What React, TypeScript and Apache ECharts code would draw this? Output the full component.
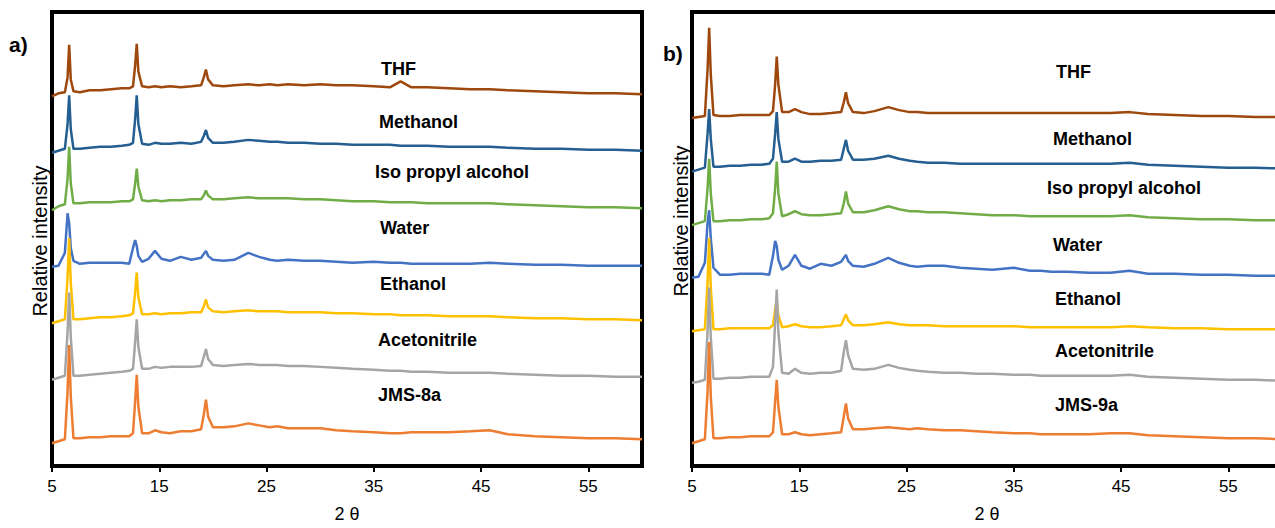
import React, { useEffect, useRef } from "react";
import * as echarts from "echarts";

// 2θ sampling positions (degrees), shared by every pattern
const THETA = [
  5, 5.6, 6.2, 6.45, 6.6, 6.75, 7.0, 7.6, 8.5, 9.5,
  10.5, 11.5, 12.2, 12.55, 12.75, 12.9, 13.05, 13.4, 14.0, 14.6,
  15.2, 16.0, 17.0, 18.0, 18.9, 19.15, 19.35, 19.55, 20.0, 21.0,
  22.0, 23.3, 24.3, 25.3, 26.0, 27.0, 28.5, 30, 31.5, 33,
  35, 36.5, 37.5, 38.5, 40, 42, 44, 45.8, 47.5, 50,
  52.5, 55, 57.5, 60,
];

const X_TICKS = [5, 15, 25, 35, 45, 55];

const LEFT_LABELS = ["THF", "Methanol", "Iso propyl alcohol", "Water", "Ethanol", "Acetonitrile", "JMS-8a"];
const RIGHT_LABELS = ["THF", "Methanol", "Iso propyl alcohol", "Water", "Ethanol", "Acetonitrile", "JMS-9a"];

// Panel a) stacked relative intensities
const A_THF = [373, 376, 377, 392, 425, 390, 378, 377, 379, 379, 380, 381, 381, 383, 404, 426, 398, 383, 382, 383, 382, 383, 382, 383, 384, 392, 400, 390, 384, 383, 384, 385, 384, 385, 384, 385, 384, 385, 384, 384, 383, 382, 388, 382, 382, 381, 380, 380, 379, 378, 377, 376, 376, 375];
const A_METHANOL = [316, 318, 320, 345, 374, 340, 320, 320, 321, 322, 322, 323, 324, 326, 350, 374, 345, 325, 324, 326, 325, 325, 326, 325, 327, 333, 339, 331, 326, 326, 327, 329, 328, 327, 327, 326, 326, 325, 325, 324, 324, 324, 323, 323, 323, 322, 322, 322, 321, 320, 320, 319, 319, 318];
const A_IPA = [258, 262, 264, 290, 322, 285, 265, 265, 266, 266, 266, 267, 267, 269, 285, 300, 282, 268, 267, 268, 267, 268, 268, 269, 269, 273, 278, 273, 269, 269, 270, 271, 270, 270, 270, 270, 269, 269, 268, 267, 267, 266, 266, 266, 265, 265, 265, 265, 264, 263, 262, 261, 261, 260];
const A_WATER = [201, 202, 215, 255, 245, 220, 207, 204, 205, 205, 205, 205, 204, 220, 228, 222, 212, 206, 209, 217, 209, 207, 211, 208, 210, 214, 217, 212, 208, 207, 208, 215, 211, 208, 207, 208, 207, 207, 206, 205, 206, 205, 205, 204, 204, 204, 204, 205, 204, 203, 203, 202, 202, 202];
const A_ETHANOL = [144, 146, 148, 190, 230, 185, 148, 148, 149, 150, 150, 151, 152, 154, 175, 195, 170, 153, 153, 154, 153, 154, 154, 155, 155, 161, 168, 160, 156, 155, 156, 157, 156, 156, 156, 155, 155, 155, 154, 154, 153, 153, 152, 152, 152, 151, 151, 151, 150, 149, 149, 148, 148, 147];
const A_ACN = [87, 89, 91, 135, 175, 130, 91, 91, 92, 93, 94, 95, 96, 98, 125, 148, 120, 98, 98, 100, 99, 100, 100, 100, 101, 110, 118, 108, 102, 101, 102, 103, 102, 102, 102, 101, 101, 100, 99, 98, 97, 96, 96, 95, 95, 94, 94, 94, 93, 92, 91, 91, 90, 90];
const A_JMS8A = [23, 25, 27, 75, 122, 70, 28, 28, 29, 29, 30, 30, 30, 33, 65, 92, 60, 33, 33, 36, 34, 33, 35, 35, 37, 52, 67, 50, 39, 39, 40, 43, 41, 39, 40, 38, 38, 38, 36, 35, 34, 33, 33, 34, 34, 34, 35, 36, 32, 30, 29, 28, 28, 27];

// Panel b) stacked relative intensities
const B_THF = [351, 352, 353, 400, 442, 395, 354, 353, 353, 354, 354, 354, 354, 358, 385, 413, 385, 357, 357, 360, 357, 355, 355, 356, 357, 367, 377, 366, 357, 356, 358, 362, 359, 357, 357, 356, 356, 356, 356, 356, 356, 356, 356, 356, 356, 356, 356, 357, 355, 354, 353, 353, 352, 352];
const B_METHANOL = [297, 299, 301, 335, 360, 330, 302, 302, 303, 303, 304, 304, 305, 310, 335, 357, 330, 307, 307, 310, 307, 307, 308, 308, 309, 320, 329, 318, 309, 309, 310, 313, 310, 308, 307, 306, 306, 305, 305, 305, 305, 305, 305, 305, 305, 305, 305, 306, 304, 303, 302, 301, 301, 300];
const B_IPA = [243, 245, 247, 280, 310, 275, 247, 247, 248, 248, 249, 249, 250, 255, 280, 307, 275, 252, 254, 257, 254, 253, 253, 254, 255, 265, 277, 265, 256, 256, 258, 262, 259, 257, 257, 256, 256, 255, 254, 253, 253, 252, 252, 252, 252, 252, 252, 253, 251, 250, 249, 249, 248, 248];
const B_WATER = [190, 191, 205, 245, 258, 230, 200, 193, 193, 194, 194, 194, 193, 212, 227, 222, 208, 198, 202, 213, 202, 199, 204, 202, 206, 210, 213, 207, 202, 201, 204, 210, 205, 202, 201, 202, 202, 200, 199, 198, 200, 197, 197, 196, 196, 195, 195, 197, 194, 194, 193, 193, 192, 192];
const B_ETHANOL = [136, 137, 138, 185, 230, 180, 138, 138, 139, 139, 139, 139, 139, 142, 158, 167, 152, 140, 141, 143, 141, 140, 140, 141, 142, 148, 153, 147, 142, 142, 143, 145, 143, 142, 142, 142, 141, 141, 141, 141, 141, 140, 140, 140, 140, 140, 140, 141, 140, 139, 139, 138, 138, 138];
const B_ACN = [84, 85, 87, 135, 180, 130, 88, 88, 89, 89, 90, 90, 90, 100, 145, 178, 135, 94, 93, 98, 94, 93, 94, 94, 96, 115, 127, 112, 98, 97, 98, 102, 99, 97, 96, 95, 94, 94, 93, 93, 92, 92, 91, 91, 91, 91, 91, 92, 90, 89, 88, 87, 87, 86];
const B_JMS9A = [23, 25, 27, 75, 125, 70, 28, 28, 29, 29, 30, 30, 30, 34, 65, 87, 60, 32, 32, 34, 32, 31, 32, 33, 34, 50, 63, 48, 37, 37, 38, 39, 38, 37, 38, 37, 36, 36, 35, 34, 33, 33, 32, 32, 32, 32, 33, 33, 31, 30, 29, 28, 28, 27];

const A_SERIES = [A_THF, A_METHANOL, A_IPA, A_WATER, A_ETHANOL, A_ACN, A_JMS8A];
const B_SERIES = [B_THF, B_METHANOL, B_IPA, B_WATER, B_ETHANOL, B_ACN, B_JMS9A];

const COLORS = ["#9E480E", "#255E91", "#70AD47", "#4472C4", "#FFC000", "#A5A5A5", "#ED7D31"];

const FONT = "Arial, 'Liberation Sans', sans-serif";

// label anchor positions (px) for the curve names
const A_LABEL_POS = [[381, 69], [379, 122], [375, 172], [380, 228], [380, 284], [378, 340], [378, 395]];
const B_LABEL_POS = [[1056, 72], [1053, 139], [1047, 188], [1053, 245], [1055, 299], [1055, 351], [1055, 405]];

export default function App() {
  const ref = useRef<HTMLDivElement>(null);

  useEffect(() => {
    if (!ref.current) return;
    const chart = echarts.init(ref.current, null, { renderer: "svg" });

    const grids = [
      { left: 52, top: 12, width: 590, height: 458 },
      { left: 692, top: 12, width: 590, height: 458 },
    ].map((g) => ({ ...g, show: true, borderColor: "#000", borderWidth: 4, backgroundColor: "transparent", containLabel: false }));

    const xAxes = [0, 1].map((i) => ({
      type: "value",
      gridIndex: i,
      min: 5,
      max: 60,
      interval: 10,
      name: "2 θ",
      nameLocation: "middle",
      nameGap: 39,
      nameTextStyle: { fontFamily: FONT, fontSize: 18, color: "#000" },
      axisLine: { show: true, onZero: false, lineStyle: { color: "#000", width: 4 } },
      axisTick: { show: true, inside: false, length: 6, lineStyle: { color: "#000", width: 2 } },
      axisLabel: {
        show: true,
        color: "#000",
        fontFamily: FONT,
        fontSize: 17,
        margin: 12,
        showMaxLabel: false,
        formatter: (v: number) => (X_TICKS.includes(v) ? String(v) : ""),
      },
      splitLine: { show: false },
    }));

    const yAxes = [0, 1].map((i) => ({
      type: "value",
      gridIndex: i,
      min: 0,
      max: 458,
      axisLine: { show: true, onZero: false, lineStyle: { color: "#000", width: 4 } },
      axisTick: { show: false },
      axisLabel: { show: false },
      splitLine: { show: false },
    }));

    const series: any[] = [];
    [A_SERIES, B_SERIES].forEach((set, p) => {
      const names = p === 0 ? LEFT_LABELS : RIGHT_LABELS;
      set.forEach((vals, k) => {
        series.push({
          type: "line",
          name: names[k] + (p === 0 ? " (a)" : " (b)"),
          xAxisIndex: p,
          yAxisIndex: p,
          showSymbol: false,
          symbol: "none",
          clip: true,
          lineStyle: { color: COLORS[k], width: 2.5 },
          itemStyle: { color: COLORS[k] },
          data: THETA.map((t, j) => [t, vals[j]]),
        });
      });
    });

    const texts: any[] = [];
    LEFT_LABELS.forEach((s, k) => {
      texts.push({
        type: "text",
        x: A_LABEL_POS[k][0],
        y: A_LABEL_POS[k][1],
        style: { text: s, font: `bold 18px ${FONT}`, fill: "#000", align: "left", verticalAlign: "middle" },
      });
    });
    RIGHT_LABELS.forEach((s, k) => {
      texts.push({
        type: "text",
        x: B_LABEL_POS[k][0],
        y: B_LABEL_POS[k][1],
        style: { text: s, font: `bold 18px ${FONT}`, fill: "#000", align: "left", verticalAlign: "middle" },
      });
    });
    texts.push({
      type: "text",
      x: 9,
      y: 44,
      style: { text: "a)", font: `bold 21px ${FONT}`, fill: "#000", align: "left", verticalAlign: "middle" },
    });
    texts.push({
      type: "text",
      x: 663,
      y: 53,
      style: { text: "b)", font: `bold 21px ${FONT}`, fill: "#000", align: "left", verticalAlign: "middle" },
    });
    texts.push({
      type: "text",
      x: 40,
      y: 241,
      rotation: Math.PI / 2,
      style: { text: "Relative intensity", font: `20px ${FONT}`, fill: "#000", align: "center", verticalAlign: "middle" },
    });
    texts.push({
      type: "text",
      x: 681,
      y: 221,
      rotation: Math.PI / 2,
      style: { text: "Relative intensity", font: `20px ${FONT}`, fill: "#000", align: "center", verticalAlign: "middle" },
    });

    chart.setOption({
      animation: false,
      backgroundColor: "#fff",
      grid: grids,
      xAxis: xAxes,
      yAxis: yAxes,
      series,
      graphic: texts,
    });

    return () => chart.dispose();
  }, []);

  return (
    <div style={{ position: "absolute", left: 0, top: 0, width: 1275, height: 528, overflow: "hidden", background: "#fff" }}>
      <div ref={ref} style={{ width: 1290, height: 528 }} />
    </div>
  );
}
